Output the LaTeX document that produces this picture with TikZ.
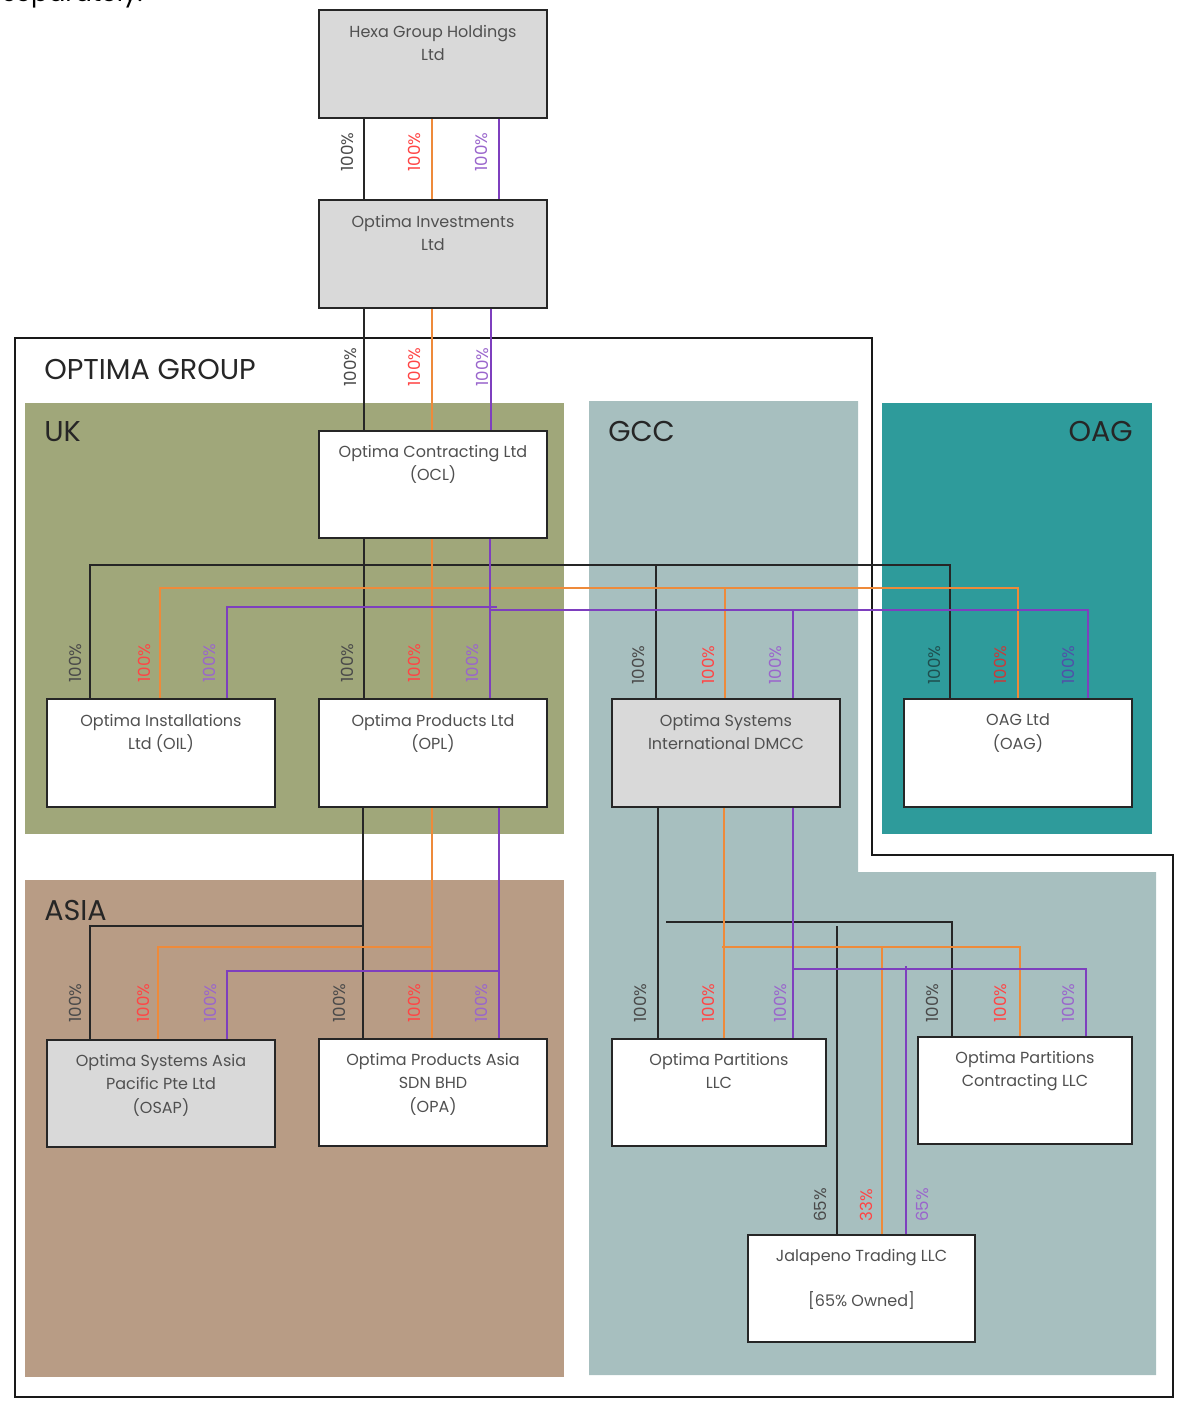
\documentclass[tikz,border=0pt]{standalone}
\usepackage{fontspec}
\setmainfont{Poppins}
\definecolor{ukc}{HTML}{A0A77A}
\definecolor{asiac}{HTML}{B89C85}
\definecolor{gccc}{HTML}{A7BFBF}
\definecolor{oagc}{HTML}{2E9B9B}
\definecolor{boxg}{HTML}{D9D9D9}
\definecolor{lor}{HTML}{EE8A3A}
\definecolor{lpu}{HTML}{7E3FBE}
\definecolor{tred}{HTML}{FF4545}
\definecolor{tpur}{HTML}{9A66CC}
\definecolor{tblk}{HTML}{4A4A4A}
\definecolor{dblk}{HTML}{1F4F4F}
\definecolor{dred}{HTML}{C83A3A}
\definecolor{dpur}{HTML}{5050A8}
\definecolor{txt}{HTML}{505050}
\begin{document}
\begin{tikzpicture}[x=0.75pt,y=-0.75pt,
  box/.style={draw=black!85, line width=1.1pt, minimum width=171pt, minimum height=80pt, inner sep=0pt},
  boxtext/.style={font=\fontsize{12}{17.5}\selectfont, text=txt, align=center, anchor=north, inner sep=0pt},
  pct/.style={font=\fontsize{12.5}{12.5}\selectfont, rotate=90, inner sep=0pt},
  region/.style={font=\fontsize{21.5}{21.5}\selectfont, text=black!85, inner sep=0pt},
  cblk/.style={draw=black!85, line width=1pt},
  cor/.style={draw=lor, line width=1pt},
  cpu/.style={draw=lpu, line width=1pt}]
\useasboundingbox (0,0) rectangle (1184,1402);
% cut-off text at top
\begin{scope}
\clip (0,0) rectangle (1184,1402);
\node[font=\fontsize{19}{19}\selectfont, text=black, anchor=base west, inner sep=0pt] (sep) at (2,2) {separately.};
\end{scope}
% regions
\fill[ukc] (25,403) rectangle (564,834);
\fill[asiac] (25,880) rectangle (564,1377);
\fill[gccc] (589,401) -- (858,401) -- (858,872) -- (1156,872) -- (1156,1375) -- (589,1375) -- cycle;
\fill[oagc] (882,403) rectangle (1152,834);
\draw[line width=2.2pt, black!90] (15,338) -- (872,338) -- (872,855) -- (1173,855) -- (1173,1397) -- (15,1397) -- cycle;
\node[region, anchor=base west] (tog) at (44,379) {OPTIMA GROUP};
\node[region, anchor=base west] (tuk) at (44,441) {UK};
\node[region, anchor=base west] (tgcc) at (608,441) {GCC};
\node[region, anchor=base east] (toag) at (1133,441) {OAG};
\node[region, anchor=base west] (tasia) at (44,920) {ASIA};
% boxes
\node[box, fill=boxg] (hexa) at (433,64) {};
\node[box, fill=boxg] (oinv) at (433,254) {};
\node[box, fill=white] (ocl) at (433,484.5) {};
\node[box, fill=white] (oil) at (161,753) {};
\node[box, fill=white] (opl) at (433,753) {};
\node[box, fill=boxg] (osid) at (726,753) {};
\node[box, fill=white] (oag) at (1018,753) {};
\node[box, fill=boxg] (osap) at (161,1093.5) {};
\node[box, fill=white] (opa) at (433,1092.5) {};
\node[box, fill=white, minimum width=160.5pt] (oplc) at (719,1092.5) {};
\node[box, fill=white, minimum width=160.5pt] (opc) at (1025,1090.5) {};
\node[box, fill=white, minimum width=170.25pt] (jal) at (861.5,1288.5) {};
% connector coordinates
\coordinate (a1) at (364,0); \coordinate (a2) at (432,0); \coordinate (a3) at (499,0);
\coordinate (b3) at (491,0);
% OCL buses
\coordinate (kbL) at (90,565); \coordinate (kbM) at (364,565); \coordinate (kbS) at (656,565); \coordinate (kbR) at (950,565);
\coordinate (koL) at (160,588); \coordinate (koM) at (432,588); \coordinate (koS) at (725,588); \coordinate (koR) at (1018,588);
\coordinate (kpL) at (227,607); \coordinate (kpM) at (497,607); \coordinate (kpN) at (490,610); \coordinate (kpS) at (793,610); \coordinate (kpR) at (1088,610);
% OPL buses
\coordinate (abL) at (90,926); \coordinate (abM) at (363,926);
\coordinate (aoL) at (158,947); \coordinate (aoM) at (432,947);
\coordinate (apL) at (227,971); \coordinate (apM) at (499,971);
% OSID buses
\coordinate (gb0) at (658,0); \coordinate (go0) at (724,0); \coordinate (gp0) at (793,969);
\coordinate (gbL) at (666,922); \coordinate (gbR) at (952,922); \coordinate (gbJ) at (837,926);
\coordinate (goL) at (722,947); \coordinate (goR) at (1020,947); \coordinate (goJ) at (882,947);
\coordinate (gpR) at (1086,969); \coordinate (gpJ) at (906,966);
% Hexa -> Optima Investments
\draw[cblk] (hexa.south -| a1) -- (oinv.north -| a1);
\draw[cor] (hexa.south -| a2) -- (oinv.north -| a2);
\draw[cpu] (hexa.south -| a3) -- (oinv.north -| a3);
% Optima Investments -> OCL
\draw[cblk] (oinv.south -| a1) -- (ocl.north -| a1);
\draw[cor] (oinv.south -| a2) -- (ocl.north -| a2);
\draw[cpu] (oinv.south -| b3) -- (ocl.north -| b3);
% OCL -> children
\draw[cblk] (ocl.south -| kbM) -- (opl.north -| kbM);
\draw[cblk] (oil.north -| kbL) -- (kbL) -- (kbR) -- (oag.north -| kbR);
\draw[cblk] (kbS) -- (osid.north -| kbS);
\draw[cor] (ocl.south -| koM) -- (opl.north -| koM);
\draw[cor] (oil.north -| koL) -- (koL) -- (koR) -- (oag.north -| koR);
\draw[cor] (koS) -- (osid.north -| koS);
\draw[cpu] (ocl.south -| kpN) -- (opl.north -| kpN);
\draw[cpu] (oil.north -| kpL) -- (kpL) -- (kpM);
\draw[cpu] (kpN) -- (kpR) -- (oag.north -| kpR);
\draw[cpu] (kpS) -- (osid.north -| kpS);
% OPL -> Asia
\draw[cblk] (opl.south -| abM) -- (opa.north -| abM);
\draw[cblk] (osap.north -| abL) -- (abL) -- (abM);
\draw[cor] (opl.south -| aoM) -- (opa.north -| aoM);
\draw[cor] (osap.north -| aoL) -- (aoL) -- (aoM);
\draw[cpu] (opl.south -| apM) -- (opa.north -| apM);
\draw[cpu] (osap.north -| apL) -- (apL) -- (apM);
% OSID -> GCC
\draw[cblk] (osid.south -| gb0) -- (oplc.north -| gb0);
\draw[cblk] (gbL) -- (gbR) -- (opc.north -| gbR);
\draw[cblk] (gbJ) -- (jal.north -| gbJ);
\draw[cor] (osid.south -| go0) -- (oplc.north -| go0);
\draw[cor] (goL) -- (goR) -- (opc.north -| goR);
\draw[cor] (goJ) -- (jal.north -| goJ);
\draw[cpu] (osid.south -| gp0) -- (oplc.north -| gp0);
\draw[cpu] (gp0) -- (gpR) -- (opc.north -| gpR);
\draw[cpu] (gpJ) -- (jal.north -| gpJ);
% redraw box borders on top
\foreach \n in {hexa,oinv,ocl,oil,opl,osid,oag,osap,opa,oplc,opc,jal}{\draw[black!85, line width=1.1pt] (\n.north west) rectangle (\n.south east);}
% box texts
\node[boxtext] (thexa) at ([yshift=-11pt]hexa.north) {Hexa Group Holdings\\Ltd};
\node[boxtext] (toinv) at ([yshift=-11pt]oinv.north) {Optima Investments\\Ltd};
\node[boxtext] (tocl) at ([yshift=-11pt]ocl.north) {Optima Contracting Ltd\\(OCL)};
\node[boxtext] (toil) at ([yshift=-11pt]oil.north) {Optima Installations\\Ltd (OIL)};
\node[boxtext] (topl) at ([yshift=-11pt]opl.north) {Optima Products Ltd\\(OPL)};
\node[boxtext] (tosid) at ([yshift=-11pt]osid.north) {Optima Systems\\International DMCC};
\node[boxtext] (toag) at ([yshift=-11pt]oag.north) {OAG Ltd\\(OAG)};
\node[boxtext] (tosap) at ([yshift=-11pt]osap.north) {Optima Systems Asia\\Pacific Pte Ltd\\(OSAP)};
\node[boxtext] (topa) at ([yshift=-11pt]opa.north) {Optima Products Asia\\SDN BHD\\(OPA)};
\node[boxtext] (toplc) at ([yshift=-11pt]oplc.north) {Optima Partitions\\LLC};
\node[boxtext] (topc) at ([yshift=-11pt]opc.north) {Optima Partitions\\Contracting LLC};
\node[boxtext] (tjal) at ([yshift=-11pt]jal.north) {Jalapeno Trading LLC\\[16pt][65\% Owned]};
% percentage labels
\node[pct, text=tblk] (p1) at (347,152) {100\%};
\node[pct, text=tred] (p2) at (414,152) {100\%};
\node[pct, text=tpur] (p3) at (481,152) {100\%};
\node[pct, text=tblk] (p4) at (350,367) {100\%};
\node[pct, text=tred] (p5) at (414,367) {100\%};
\node[pct, text=tpur] (p6) at (482,367) {100\%};
\node[pct, text=tblk] (p7) at (75,663) {100\%};
\node[pct, text=tred] (p8) at (144,663) {100\%};
\node[pct, text=tpur] (p9) at (209,663) {100\%};
\node[pct, text=tblk] (p10) at (347,663) {100\%};
\node[pct, text=tred] (p11) at (414,663) {100\%};
\node[pct, text=tpur] (p12) at (472,663) {100\%};
\node[pct, text=tblk] (p13) at (638,665) {100\%};
\node[pct, text=tred] (p14) at (708,665) {100\%};
\node[pct, text=tpur] (p15) at (775,665) {100\%};
\node[pct, text=dblk] (p16) at (934,665) {100\%};
\node[pct, text=dred] (p17) at (1000,665) {100\%};
\node[pct, text=dpur] (p18) at (1068,665) {100\%};
\node[pct, text=tblk] (p19) at (75,1003) {100\%};
\node[pct, text=tred] (p20) at (143,1003) {100\%};
\node[pct, text=tpur] (p21) at (210,1003) {100\%};
\node[pct, text=tblk] (p22) at (339,1003) {100\%};
\node[pct, text=tred] (p23) at (414,1003) {100\%};
\node[pct, text=tpur] (p24) at (481,1003) {100\%};
\node[pct, text=tblk] (p25) at (640,1003) {100\%};
\node[pct, text=tred] (p26) at (708,1003) {100\%};
\node[pct, text=tpur] (p27) at (780,1003) {100\%};
\node[pct, text=tblk] (p28) at (932,1003) {100\%};
\node[pct, text=tred] (p29) at (1000,1003) {100\%};
\node[pct, text=tpur] (p30) at (1068,1003) {100\%};
\node[pct, text=tblk] (p31) at (820,1205) {65\%};
\node[pct, text=tred] (p32) at (866,1205) {33\%};
\node[pct, text=tpur] (p33) at (922,1205) {65\%};
\end{tikzpicture}
\end{document}
